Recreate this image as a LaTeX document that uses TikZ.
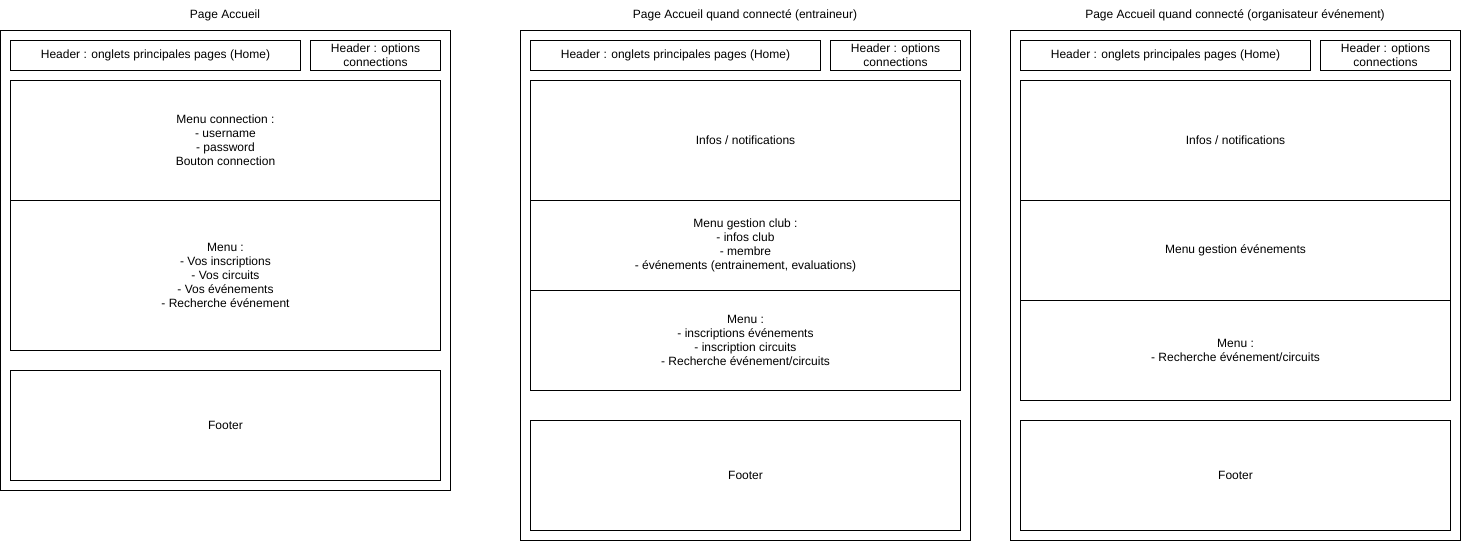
\documentclass[tikz,border=0pt]{standalone}
\usepackage{fontspec}
\setmainfont{Liberation Sans}
\usepackage{tikz}
\usetikzlibrary{positioning}

\begin{document}
\begin{tikzpicture}[x=1pt, y=-1pt,
  line width=1pt,
  font=\fontsize{12}{14}\selectfont,
  box/.style={draw, anchor=north west, inner sep=0pt, outer sep=0pt, align=center},
  titre/.style={inner sep=0pt}]
  \useasboundingbox (0,0) rectangle (1461,541);

  % Page Accueil
  \node[titre] (titre1) at (225,15) {Page Accueil};
  \node[box, minimum width=450, minimum height=460] (page1) at (0.5,30.5) {};
  \node[box, minimum width=290, minimum height=30] (header1) at (10.5,40.5) {Header : onglets principales pages (Home)};
  \node[box, minimum width=130, minimum height=30] (options1) at (310.5,40.5) {Header : options\\connections};
  \node[box, minimum width=430, minimum height=120] (connexion1) at (10.5,80.5) {Menu connection :\\- username\\- password\\Bouton connection};
  \node[box, minimum width=430, minimum height=150] (menu1) at (10.5,200.5) {Menu :\\- Vos inscriptions\\- Vos circuits\\- Vos événements\\- Recherche événement};
  \node[box, minimum width=430, minimum height=110] (footer1) at (10.5,370.5) {Footer};

  % Page Accueil quand connecte (entraineur)
  \node[titre] (titre2) at (745,15) {Page Accueil quand connecté (entraineur)};
  \node[box, minimum width=450, minimum height=510] (page2) at (520.5,30.5) {};
  \node[box, minimum width=290, minimum height=30] (header2) at (530.5,40.5) {Header : onglets principales pages (Home)};
  \node[box, minimum width=130, minimum height=30] (options2) at (830.5,40.5) {Header : options\\connections};
  \node[box, minimum width=430, minimum height=120] (infos2) at (530.5,80.5) {Infos / notifications};
  \node[box, minimum width=430, minimum height=90] (club2) at (530.5,200.5) {Menu gestion club :\\- infos club\\- membre\\- événements (entrainement, evaluations)};
  \node[box, minimum width=430, minimum height=100] (menu2) at (530.5,290.5) {Menu :\\- inscriptions événements\\- inscription circuits\\- Recherche événement/circuits};
  \node[box, minimum width=430, minimum height=110] (footer2) at (530.5,420.5) {Footer};

  % Page Accueil quand connecte (organisateur evenement)
  \node[titre] (titre3) at (1235,15) {Page Accueil quand connecté (organisateur événement)};
  \node[box, minimum width=450, minimum height=510] (page3) at (1010.5,30.5) {};
  \node[box, minimum width=290, minimum height=30] (header3) at (1020.5,40.5) {Header : onglets principales pages (Home)};
  \node[box, minimum width=130, minimum height=30] (options3) at (1320.5,40.5) {Header : options\\connections};
  \node[box, minimum width=430, minimum height=120] (infos3) at (1020.5,80.5) {Infos / notifications};
  \node[box, minimum width=430, minimum height=100] (evenements3) at (1020.5,200.5) {Menu gestion événements};
  \node[box, minimum width=430, minimum height=100] (menu3) at (1020.5,300.5) {Menu :\\- Recherche événement/circuits};
  \node[box, minimum width=430, minimum height=110] (footer3) at (1020.5,420.5) {Footer};

\end{tikzpicture}
\end{document}
